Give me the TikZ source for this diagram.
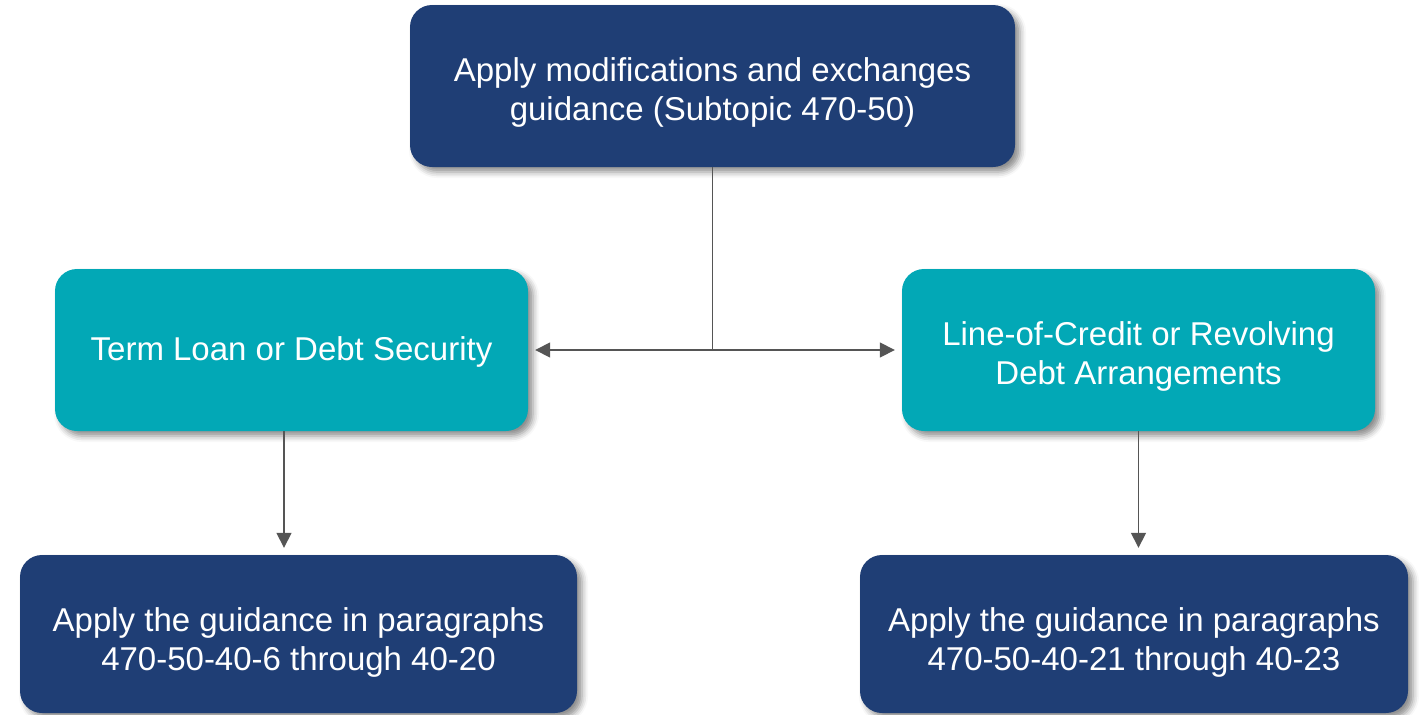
\documentclass[tikz,border=0pt]{standalone}
\usepackage{fontspec}
\setmainfont{Liberation Sans}
\usetikzlibrary{shadows.blur,arrows.meta}

\definecolor{navy}{HTML}{1F3E75}
\definecolor{aqua}{HTML}{02A8B6}
\definecolor{wire}{HTML}{555555}

\tikzset{
  card/.style={rounded corners=22pt, inner sep=0pt,
    blur shadow={shadow xshift=5pt, shadow yshift=-5pt,
      shadow blur radius=6pt, shadow opacity=45}},
  darkcard/.style={card, fill=navy},
  aquacard/.style={card, fill=aqua},
  caption/.style={text=white, align=center,
    font=\fontsize{33}{39}\selectfont, inner sep=0pt},
  link/.style={draw=wire, line width=1.6pt,
    -{Triangle[length=15pt,width=15pt]}, shorten >=7pt},
  stem/.style={draw=wire, line width=1.6pt},
}

\begin{document}
\begin{tikzpicture}[x=1pt,y=-1pt]
  \useasboundingbox (0,0) rectangle (1425,715);

  % top decision box
  \node[darkcard, minimum width=605pt, minimum height=162pt] (top) at (712.5,86) {};
  \node[caption] (toptext) at ([yshift=-6pt]top.center)
    {Apply modifications and exchanges\\guidance (Subtopic 470-50)};

  % the two kinds of debt
  \node[aquacard, minimum width=473pt, minimum height=162pt] (tl) at (291.5,350) {};
  \node[caption] (tltext) at ([yshift=-2pt]tl.center) {Term Loan or Debt Security};
  \node[aquacard, minimum width=473pt, minimum height=162pt] (tr) at (1138.5,350) {};
  \node[caption] (trtext) at ([yshift=-6pt]tr.center)
    {Line-of-Credit or Revolving\\Debt Arrangements};

  % guidance for each kind
  \node[darkcard, minimum width=557pt, minimum height=158pt] (bl) at (298.5,634) {};
  \node[caption] (bltext) at ([yshift=-8pt]bl.center)
    {Apply the guidance in paragraphs\\470-50-40-6 through 40-20};
  \node[darkcard, minimum width=548pt, minimum height=158pt] (br) at (1134,634) {};
  \node[caption] (brtext) at ([yshift=-8pt]br.center)
    {Apply the guidance in paragraphs\\470-50-40-21 through 40-23};

  % split from the top box
  \coordinate (j) at (top.south |- tl.east);
  \draw[stem] (top.south) -- (j);
  \draw[link] (j) -- (tl.east);
  \draw[link] (j) -- (tr.west);

  % down to the guidance boxes
  \draw[link] ([xshift=-7.5pt]tl.south) -- ([xshift=-7.5pt]tl.south |- bl.north);
  \draw[link] (tr.south) -- (tr.south |- br.north);
\end{tikzpicture}
\end{document}
